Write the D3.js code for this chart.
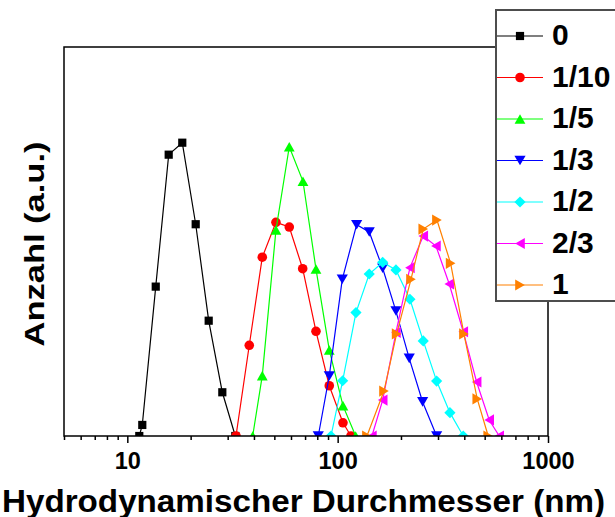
<!DOCTYPE html>
<html>
<head>
<meta charset="utf-8">
<script src="https://cdn.jsdelivr.net/npm/d3@7"></script>
<style>
  html, body { margin: 0; padding: 0; background: #fff; }
  svg { display: block; }
  text { font-family: "Liberation Sans", Arial, sans-serif; font-weight: bold; fill: #000; }
</style>
</head>
<body>
<svg id="chart" width="615" height="517"></svg>
<script>
// Size distributions (number-weighted) for each mixing ratio
const seriesNames = ["0", "1/10", "1/5", "1/3", "1/2", "2/3", "1"];
const seriesColors = ["#000000", "#ff0000", "#00ff00", "#0000ff", "#00ffff", "#ff00ff", "#ff8000"];
const seriesShapes = ["square", "circle", "triangleUp", "triangleDown", "diamond", "triangleLeft", "triangleRight"];

const diam0 = [11.40, 11.78, 13.65, 15.73, 18.25, 21.14, 24.37, 28.29, 32.61];
const count0 = [0, 0.71, 9.60, 18.08, 18.85, 13.61, 7.41, 2.81, 0];

const diam1 = [32.86, 38.00, 43.82, 50.89, 58.88, 68.19, 78.88, 91.23, 105.97, 115.68];
const count1 = [0, 5.83, 11.49, 13.73, 13.43, 10.75, 6.73, 3.23, 0.85, 0];

const diam2 = [39.45, 43.82, 50.89, 58.88, 68.41, 78.88, 91.23, 105.97, 121.78];
const count2 = [0, 3.88, 13.24, 18.59, 16.37, 10.73, 5.53, 1.95, 0];

const diam3 = [80.87, 91.23, 105.17, 123.12, 141.30, 163.68, 189.28, 218.9, 253.5, 295.5];
const count3 = [0, 3.86, 10.07, 13.58, 13.11, 10.78, 8.03, 4.99, 2.19, 0];

const diam4 = [92.95, 105.6, 122.2, 141.3, 163.7, 189.3, 220.6, 255.2, 295.5, 341.8, 395.4];
const count4 = [0, 3.55, 7.93, 10.41, 11.16, 10.67, 8.79, 6.11, 3.53, 1.50, 0];

const diam5 = [145.5, 163.7, 189.3, 220.6, 255.2, 293.3, 339.2, 395.4, 457.8, 525.4, 586.3];
const count5 = [0, 2.31, 6.66, 10.82, 12.85, 12.21, 9.77, 6.70, 3.47, 1.03, 0];

const diam6 = [137.8, 166.0, 190.7, 223.1, 255.2, 296.5, 344.4, 398.4, 460.8, 519.6];
const count6 = [0, 2.89, 6.56, 10.07, 13.30, 13.88, 11.10, 6.56, 2.38, 0];

const diameters = [diam0, diam1, diam2, diam3, diam4, diam5, diam6];
const counts = [count0, count1, count2, count3, count4, count5, count6];

const xDomain = [5, 1000];
const yDomain = [0, 25];
const majorTicks = [10, 100, 1000];
const minorTicks = [5, 6, 7, 8, 9, 20, 30, 40, 50, 60, 70, 80, 90, 200, 300, 400, 500, 600, 700, 800, 900];

const xTitle = "Hydrodynamischer Durchmesser (nm)";
const yTitle = "Anzahl (a.u.)";

// Layout
const plot = { left: 64, right: 548, top: 47, bottom: 436 };

const svg = d3.select("#chart");

const x = d3.scaleLog().domain(xDomain).range([plot.left, plot.right]);
const y = d3.scaleLinear().domain(yDomain).range([plot.bottom, plot.top]);

// Marker outlines, centred on their bounding box
function markerPath(shape) {
  switch (shape) {
    case "square": { const s = 4.1; return `M${-s},${-s}H${s}V${s}H${-s}Z`; }
    case "circle": { const r = 4.8; return `M${r},0A${r},${r} 0 1,1 ${-r},0A${r},${r} 0 1,1 ${r},0Z`; }
    case "triangleUp": { const w = 5.4, h = 4.8; return `M${-w},${h}L${w},${h}L0,${-h}Z`; }
    case "triangleDown": { const w = 5.6, h = 4.8; return `M${-w},${-h}L${w},${-h}L0,${h}Z`; }
    case "diamond": { const w = 5.6, h = 5.6; return `M0,${-h}L${w},0L0,${h}L${-w},0Z`; }
    case "triangleLeft": { const w = 4.8, h = 5.6; return `M${-w},0L${w},${-h}L${w},${h}Z`; }
    case "triangleRight": { const w = 4.8, h = 5.6; return `M${w},0L${-w},${-h}L${-w},${h}Z`; }
  }
}

svg.append("defs").append("clipPath").attr("id", "plot-clip")
  .append("rect")
  .attr("x", plot.left).attr("y", plot.top)
  .attr("width", plot.right - plot.left).attr("height", plot.bottom - plot.top);

// X axis: minor ticks, then labelled major ticks
const minorAxis = d3.axisBottom(x).tickValues(minorTicks).tickSize(4).tickFormat("");
const majorAxis = d3.axisBottom(x).tickValues(majorTicks).tickSize(7).tickPadding(9).tickFormat(d3.format("d"));

const gMinor = svg.append("g").attr("transform", `translate(0,${plot.bottom})`).call(minorAxis);
const gMajor = svg.append("g").attr("transform", `translate(0,${plot.bottom})`).call(majorAxis);
[gMinor, gMajor].forEach(g => {
  g.select(".domain").remove();
  g.selectAll(".tick line").attr("stroke", "#000").attr("stroke-width", 1.5);
});
gMajor.selectAll(".tick text")
  .attr("fill", "#000")
  .style("font-family", "'Liberation Sans', Arial, sans-serif")
  .style("font-weight", "bold")
  .style("font-size", "23.5px");

// Series: line plus markers
const line = d3.line().x(d => x(d[0])).y(d => y(d[1]));
const seriesLayer = svg.append("g");
diameters.forEach((ds, i) => {
  const pts = ds.map((d, j) => [d, counts[i][j]]);
  const g = seriesLayer.append("g");
  g.append("path")
    .attr("d", line(pts))
    .attr("fill", "none")
    .attr("stroke", seriesColors[i])
    .attr("stroke-width", 1.2);
  g.append("g").attr("clip-path", "url(#plot-clip)")
    .selectAll("path")
    .data(pts)
    .join("path")
    .attr("transform", d => `translate(${x(d[0])},${y(d[1])})`)
    .attr("d", markerPath(seriesShapes[i]))
    .attr("fill", seriesColors[i]);
});

// Plot frame
svg.append("rect")
  .attr("x", plot.left).attr("y", plot.top)
  .attr("width", plot.right - plot.left).attr("height", plot.bottom - plot.top)
  .attr("fill", "none").attr("stroke", "#000").attr("stroke-width", 1.5);

// Axis titles
svg.append("text")
  .attr("x", 303.5).attr("y", 511.5)
  .attr("text-anchor", "middle")
  .attr("textLength", 603).attr("lengthAdjust", "spacingAndGlyphs")
  .style("font-size", "32px")
  .text(xTitle);

svg.append("text")
  .attr("transform", "translate(44,244) rotate(-90)")
  .attr("text-anchor", "middle")
  .attr("textLength", 205).attr("lengthAdjust", "spacingAndGlyphs")
  .style("font-size", "28px")
  .text(yTitle);

// Legend
const legend = { left: 496, top: 10, bottom: 301, firstRow: 36, rowStep: 41.5 };
svg.append("rect")
  .attr("x", legend.left).attr("y", legend.top)
  .attr("width", 640 - legend.left).attr("height", legend.bottom - legend.top)
  .attr("fill", "#fff").attr("stroke", "#4d4d4d").attr("stroke-width", 2);

seriesNames.forEach((name, i) => {
  const cy = legend.firstRow + i * legend.rowStep;
  const g = svg.append("g");
  g.append("line")
    .attr("x1", 497).attr("x2", 543).attr("y1", cy).attr("y2", cy)
    .attr("stroke", seriesColors[i]).attr("stroke-width", 1.2);
  g.append("path")
    .attr("transform", `translate(520,${cy})`)
    .attr("d", markerPath(seriesShapes[i]))
    .attr("fill", seriesColors[i]);
  g.append("text")
    .attr("x", 552).attr("y", cy + 9)
    .style("font-size", "30px")
    .text(name);
});
</script>
</body>
</html>
